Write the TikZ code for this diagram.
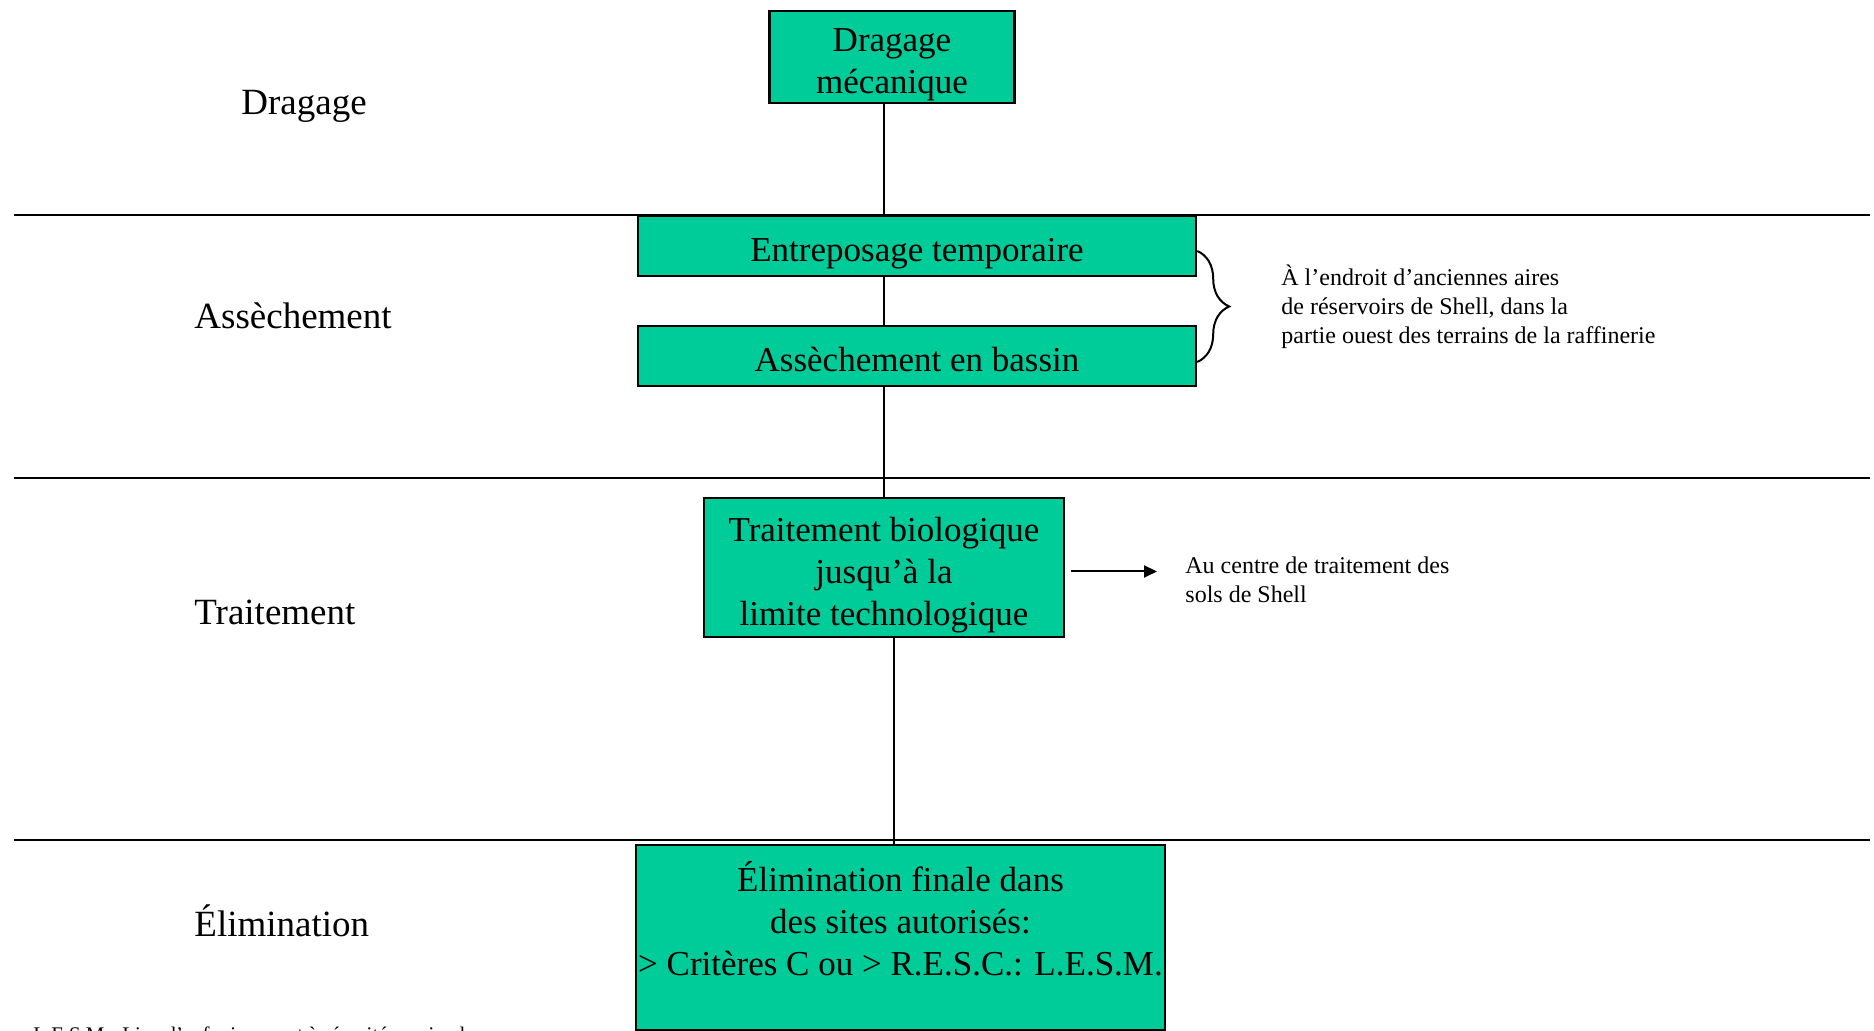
\documentclass[tikz,border=0pt]{standalone}
\usepackage{fontspec}
\setmainfont{Liberation Serif}
\usetikzlibrary{arrows.meta,decorations.pathreplacing}
\definecolor{vert}{RGB}{0,204,153}
\newcommand\haut[1][15.8pt]{\rule{0pt}{#1}}

\begin{document}
\begin{tikzpicture}[x=50pt,y=50pt,
    boite/.style={draw, line width=1.2pt, fill=vert, align=center, inner sep=1pt,
                  font=\fontsize{17.5}{21}\selectfont},
    uneligne/.style={text height=19.6pt, text depth=3.8pt},
    plignes/.style={text depth=0pt},
    etape/.style={anchor=base west, inner sep=0pt, font=\fontsize{18.5}{22}\selectfont},
    note/.style={anchor=west, align=left, inner sep=0pt, font=\fontsize{12}{14.5}\selectfont},
    lien/.style={line width=1pt},
    fleche/.style={line width=1pt, -{Triangle[length=6.5pt,width=6pt]}}]

    \useasboundingbox (0,0) rectangle (18.74,10.31);

    % lignes de separation
    \draw[lien] (0.14,8.16) -- (18.70,8.16);
    \draw[lien] (0.14,5.53) -- (18.70,5.53);
    \draw[lien] (0.14,1.91) -- (18.70,1.91);

    % etapes a gauche
    \node[etape] (etdrag) at (2.41,9.16) {Dragage};
    \node[etape] (etass) at (1.94,7.02) {Assèchement};
    \node[etape] (ettrait) at (1.94,4.06) {Traitement};
    \node[etape] (etelim) at (1.94,0.94) {Élimination};

    % boites
    \node[boite, plignes, minimum width=122.5pt, minimum height=46pt] (drag) at (8.92,9.74)
        {\haut Dragage\\mécanique};
    \node[boite, uneligne, minimum width=279pt, minimum height=30pt] (entre) at (9.17,7.85)
        {Entreposage temporaire};
    \node[boite, uneligne, minimum width=279pt, minimum height=30pt] (assech) at (9.17,6.75)
        {Assèchement en bassin};
    \node[boite, plignes, minimum width=180pt, minimum height=69.5pt] (trait) at (8.84,4.635)
        {\haut Traitement biologique\\jusqu’à la\\limite technologique};
    \node[boite, plignes, minimum width=262.5pt, minimum height=92.5pt] (elim) at (9.005,0.935)
        {\haut[17pt]Élimination finale dans\\des sites autorisés:\\> Critères C ou > R.E.S.C.: L.E.S.M.\\\mbox{}};

    % liens
    \draw[lien] (drag.south -| trait.north) -- (entre.north -| trait.north);
    \draw[lien] (entre.south -| trait.north) -- (assech.north -| trait.north);
    \draw[lien] (assech.south -| trait.north) -- (trait.north);
    \draw[lien] ([xshift=5pt]trait.south) -- ([xshift=5pt]trait.south |- elim.north);

    % notes
    \node[note] (aires) at (12.81,7.24)
        {À l’endroit d’anciennes aires\\de réservoirs de Shell, dans la\\partie ouest des terrains de la raffinerie};
    \draw[lien, decorate, decoration={brace, amplitude=16pt}]
        ([yshift=-2.5pt]entre.east) -- ([yshift=-3pt]assech.east);

    \node[note] (sols) at (11.85,4.51) {Au centre de traitement des\\sols de Shell};
    \draw[fleche] ([xshift=3pt,yshift=-2pt]trait.east) -- ([xshift=-14pt,yshift=-2pt]trait.east -| sols.west);

    \node[anchor=base west, inner sep=0pt, font=\fontsize{10.4}{12.5}\selectfont] (lesm) at (0.33,-0.11)
        {L.E.S.M.: Lieu d’enfouissement à sécurité maximale};
\end{tikzpicture}
\end{document}
